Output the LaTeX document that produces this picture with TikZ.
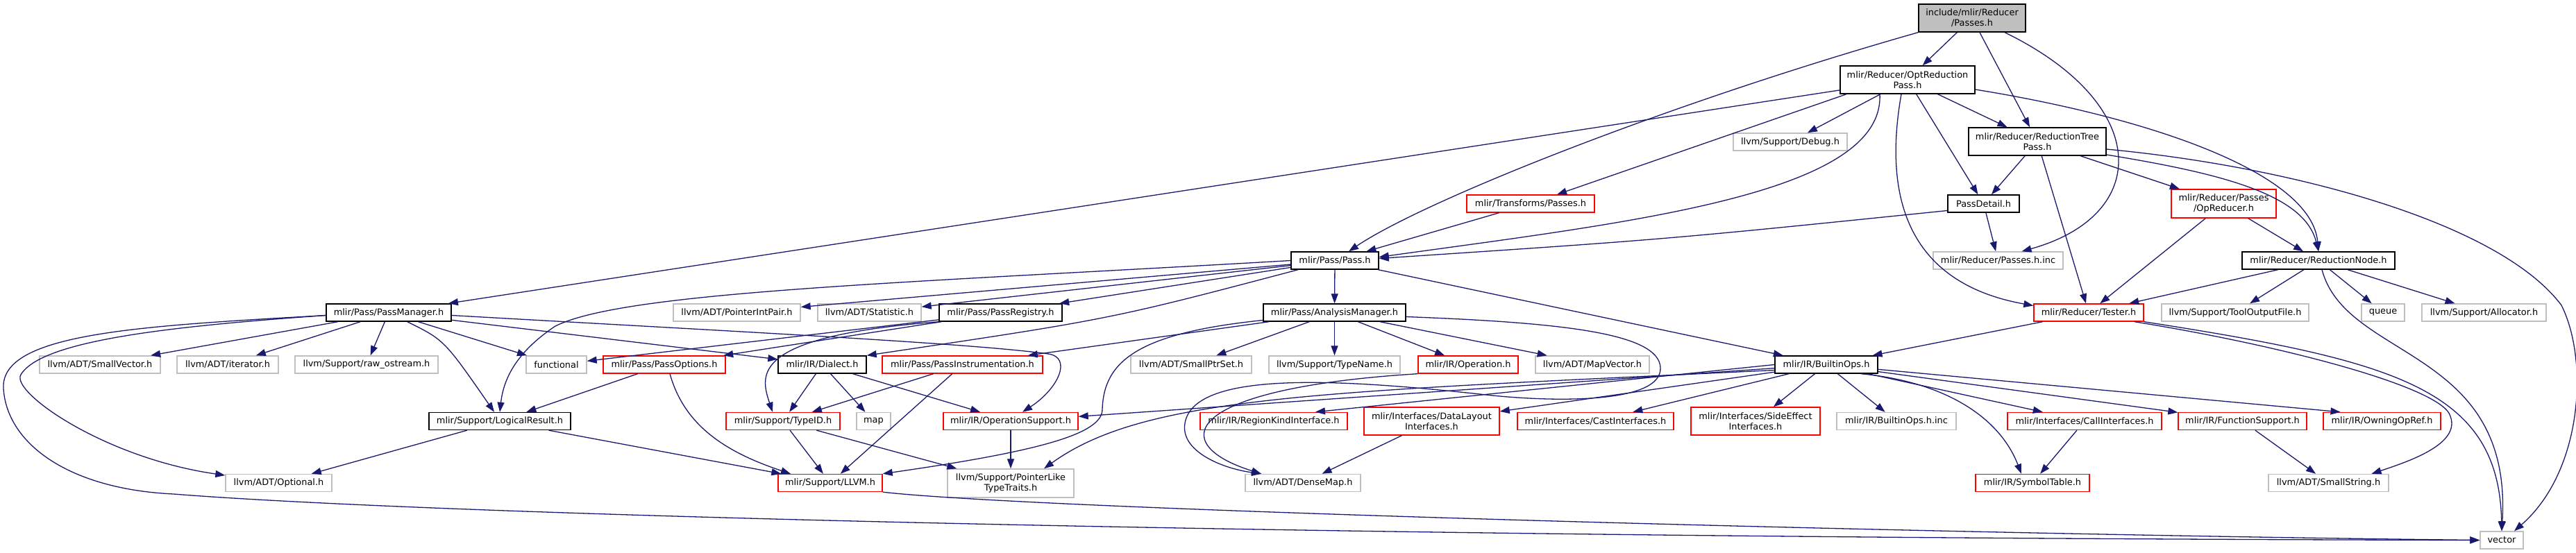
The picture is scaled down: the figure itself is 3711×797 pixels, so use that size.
\documentclass[tikz,border=0pt]{standalone}
\usepackage{fontspec}
\setmainfont{DejaVu Sans}
\usepackage{xcolor}
\usetikzlibrary{arrows.meta}
\definecolor{edgeblue}{HTML}{191970}
\definecolor{grey75}{HTML}{BFBFBF}
\definecolor{cutred}{HTML}{FF0000}

\begin{document}
\begin{tikzpicture}[x=1pt,y=-1pt,
  font=\fontsize{12.9}{15.3}\selectfont,
  box/.style={draw=black,line width=1.4pt,fill=white,inner sep=0pt,minimum height=25pt,align=center},
  sysbox/.style={box,draw=grey75},
  cutbox/.style={box,draw=cutred},
  edge/.style={draw=edgeblue,line width=1.3pt,-{Triangle[length=14pt,width=10pt]}}]
  \path[use as bounding box,fill=white] (0,0) rectangle (3711,797);

  \node[box,fill=grey75,minimum width=154pt,minimum height=40pt] (root) at (2841,26) {include/mlir/Reducer\\/Passes.h};
  \node[box,minimum width=194pt,minimum height=40pt] (optred) at (2748,115) {mlir/Reducer/OptReduction\\Pass.h};
  \node[sysbox,minimum width=164pt] (debug) at (2579,204.5) {llvm/Support/Debug.h};
  \node[box,minimum width=198pt,minimum height=40pt] (redtree) at (2935,204) {mlir/Reducer/ReductionTree\\Pass.h};
  \node[cutbox,minimum width=184pt] (trpasses) at (2205,293.5) {mlir/Transforms/Passes.h};
  \node[box,minimum width=103pt] (pdetail) at (2857.5,293.5) {PassDetail.h};
  \node[cutbox,minimum width=151pt,minimum height=41pt] (opred) at (3203.5,293.5) {mlir/Reducer/Passes\\/OpReducer.h};
  \node[box,minimum width=126pt] (pass) at (1923,375.5) {mlir/Pass/Pass.h};
  \node[sysbox,minimum width=187pt] (pinc) at (2878.5,375.5) {mlir/Reducer/Passes.h.inc};
  \node[box,minimum width=220pt] (rnode) at (3340,375.5) {mlir/Reducer/ReductionNode.h};

  \node[box,minimum width=180pt] (pmgr) at (560,450.5) {mlir/Pass/PassManager.h};
  \node[sysbox,minimum width=183pt] (pip) at (1061.5,450.5) {llvm/ADT/PointerIntPair.h};
  \node[sysbox,minimum width=149pt] (stat) at (1252.5,450.5) {llvm/ADT/Statistic.h};
  \node[box,minimum width=177pt] (preg) at (1441.5,450.5) {mlir/Pass/PassRegistry.h};
  \node[box,minimum width=205pt] (amgr) at (1922.5,450.5) {mlir/Pass/AnalysisManager.h};
  \node[cutbox,minimum width=158pt] (tester) at (3009,450.5) {mlir/Reducer/Tester.h};
  \node[sysbox,minimum width=212pt] (tof) at (3220,450.5) {llvm/Support/ToolOutputFile.h};
  \node[sysbox,minimum width=62pt] (queue) at (3433,450.5) {queue};
  \node[sysbox,minimum width=179pt] (alloc) at (3578.5,450.5) {llvm/Support/Allocator.h};

  \node[sysbox,minimum width=174pt] (svec) at (144,525.5) {llvm/ADT/SmallVector.h};
  \node[sysbox,minimum width=146pt] (iter) at (328,525.5) {llvm/ADT/iterator.h};
  \node[sysbox,minimum width=206pt] (ros) at (528,525.5) {llvm/Support/raw\_ostream.h};
  \node[sysbox,minimum width=87pt] (func) at (801.5,525.5) {functional};
  \node[cutbox,minimum width=176pt] (popt) at (957,525.5) {mlir/Pass/PassOptions.h};
  \node[box,minimum width=127pt] (dialect) at (1184.5,525.5) {mlir/IR/Dialect.h};
  \node[cutbox,minimum width=231pt] (pinstr) at (1386.5,525.5) {mlir/Pass/PassInstrumentation.h};
  \node[sysbox,minimum width=174pt] (sps) at (1716,525.5) {llvm/ADT/SmallPtrSet.h};
  \node[sysbox,minimum width=189pt] (tname) at (1922.5,525.5) {llvm/Support/TypeName.h};
  \node[cutbox,minimum width=144pt] (oper) at (2115,525.5) {mlir/IR/Operation.h};
  \node[sysbox,minimum width=164pt] (mvec) at (2294,525.5) {llvm/ADT/MapVector.h};
  \node[box,minimum width=148pt] (bops) at (2631,525.5) {mlir/IR/BuiltinOps.h};

  \node[box,minimum width=204pt] (lres) at (720,607) {mlir/Support/LogicalResult.h};
  \node[cutbox,minimum width=164pt] (tid) at (1128,607) {mlir/Support/TypeID.h};
  \node[sysbox,minimum width=49pt] (map) at (1258.5,607) {map};
  \node[cutbox,minimum width=194pt] (osup) at (1456,607) {mlir/IR/OperationSupport.h};
  \node[cutbox,minimum width=212pt] (rki) at (1835,607) {mlir/IR/RegionKindInterface.h};
  \node[cutbox,minimum width=195pt,minimum height=40pt] (dli) at (2062.5,607) {mlir/Interfaces/DataLayout\\Interfaces.h};
  \node[cutbox,minimum width=225pt] (cast) at (2298.5,607) {mlir/Interfaces/CastInterfaces.h};
  \node[cutbox,minimum width=186pt,minimum height=40pt] (sei) at (2529,607) {mlir/Interfaces/SideEffect\\Interfaces.h};
  \node[sysbox,minimum width=172pt] (binc) at (2732,607) {mlir/IR/BuiltinOps.h.inc};
  \node[cutbox,minimum width=222pt] (call) at (3003,607) {mlir/Interfaces/CallInterfaces.h};
  \node[cutbox,minimum width=185pt] (fsup) at (3230.5,607) {mlir/IR/FunctionSupport.h};
  \node[cutbox,minimum width=169pt] (owning) at (3431.5,607) {mlir/IR/OwningOpRef.h};

  \node[sysbox,minimum width=153pt] (opt) at (401.5,696) {llvm/ADT/Optional.h};
  \node[cutbox,minimum width=150pt] (llvm) at (1196,696) {mlir/Support/LLVM.h};
  \node[sysbox,minimum width=182pt,minimum height=41pt] (plt) at (1456,696.5) {llvm/Support/PointerLike\\TypeTraits.h};
  \node[sysbox,minimum width=166pt] (dmap) at (1877,696) {llvm/ADT/DenseMap.h};
  \node[cutbox,minimum width=164pt] (symtab) at (2928,696) {mlir/IR/SymbolTable.h};
  \node[sysbox,minimum width=173pt] (sstr) at (3354.5,696) {llvm/ADT/SmallString.h};
  \node[sysbox,minimum width=62pt] (vector) at (3604,778.5) {vector};

  \draw[edge] (root.south west) .. controls (2400,150) and (2050,290) .. ([xshift=20pt]pass.north);
  \draw[edge] (root) -- (optred);
  \draw[edge] (root) -- (redtree);
  \draw[edge] ([xshift=47pt]root.south) .. controls (3100,150) and (3100,310) .. ([xshift=34pt]pinc.north);

  \draw[edge] (optred) -- (pmgr);
  \draw[edge] ([xshift=-88pt]optred.south) -- (trpasses);
  \draw[edge] ([xshift=-40pt]optred.south) .. controls (2715,280) and (2350,320) .. ([yshift=5pt]pass.east);
  \draw[edge] (optred) -- (debug);
  \draw[edge] (optred) -- (pdetail);
  \draw[edge] (optred) -- (redtree);
  \draw[edge] ([yshift=-14pt]optred.east) .. controls (3100,170) and (3330,250) .. (rnode.north);
  \draw[edge] ([xshift=-9pt]optred.south) .. controls (2710,300) and (2760,410) .. ([yshift=10pt]tester.west);

  \draw[edge] (redtree) -- (pdetail);
  \draw[edge] (redtree) -- (tester);
  \draw[edge] (redtree) -- (opred);
  \draw[edge] ([yshift=-19pt]redtree.east) .. controls (3200,250) and (3320,280) .. (rnode.north);
  \draw[edge] ([yshift=-11pt]redtree.east) .. controls (3300,240) and (3600,320) .. (3690,440) .. controls (3730,520) and (3720,680) .. ([xshift=18pt]vector.north);

  \draw[edge] ([yshift=-10pt]pdetail.west) .. controls (2400,345) .. ([yshift=3pt]pass.east);
  \draw[edge] (pdetail) -- (pinc);
  \draw[edge] (trpasses) -- (pass);
  \draw[edge] (opred) -- (tester);
  \draw[edge] (opred) -- (rnode);

  \draw[edge] (rnode) -- (tester);
  \draw[edge] (rnode) -- (tof);
  \draw[edge] (rnode) -- (queue);
  \draw[edge] (rnode) -- (alloc);
  \draw[edge] ([xshift=5pt]rnode.south) .. controls (3380,520) and (3620,500) .. (vector.north);

  \draw[edge] (tester) -- (bops);
  \draw[edge] ([xshift=66pt]tester.south) .. controls (3300,500) and (3520,560) .. (3530,600) .. controls (3545,640) and (3470,665) .. ([xshift=62pt]sstr.north);
  \draw[edge] (tester.south east) .. controls (3450,520) and (3600,560) .. (vector.north);

  \draw[edge] (pass.west) .. controls (1300,408) and (900,420) .. (800,470) .. controls (740,510) and (725,550) .. (lres.north);
  \draw[edge] (pass) -- (pip);
  \draw[edge] (pass) -- (stat);
  \draw[edge] (pass) -- (preg);
  \draw[edge] ([xshift=-53pt]pass.south) .. controls (1600,460) .. (dialect.north east);
  \draw[edge] (pass) -- (amgr);
  \draw[edge] (pass) -- (bops);

  \draw[edge] (preg) -- (func);
  \draw[edge] (preg) -- (popt);
  \draw[edge] (preg.south west) .. controls (1080,485) and (1095,540) .. ([xshift=-15pt]tid.north);

  \draw[edge] (pmgr) -- (svec);
  \draw[edge] (pmgr) -- (iter);
  \draw[edge] (pmgr) -- (ros);
  \draw[edge] (pmgr) -- (func);
  \draw[edge] (pmgr) .. controls (640,490) .. ([xshift=-8pt]lres.north);
  \draw[edge] (pmgr) -- (dialect);
  \draw[edge] ([yshift=-4pt]pmgr.east) .. controls (1100,480) and (1400,495) .. (1510,510) .. controls (1545,515) and (1525,560) .. ([xshift=17pt]osup.north);
  \draw[edge] ([yshift=-4pt]pmgr.west) .. controls (250,470) and (60,490) .. (30,540) .. controls (15,565) and (150,660) .. ([yshift=11pt]opt.west);
  \draw[edge] ([yshift=-4pt]pmgr.west) .. controls (200,470) and (0,480) .. (5,560) .. controls (10,640) and (100,705) .. (250,712) .. controls (600,740) and (1800,775) .. (vector.west);

  \draw[edge] (amgr) -- (pinstr);
  \draw[edge] ([yshift=-11pt]amgr.west) .. controls (1640,480) and (1590,520) .. (1588,590) .. controls (1588,625) and (1500,650) .. (llvm.north east);
  \draw[edge] (amgr) -- (sps);
  \draw[edge] (amgr) -- (tname);
  \draw[edge] (amgr) -- (oper);
  \draw[edge] (amgr) -- (mvec);
  \draw[edge] ([yshift=-6pt]amgr.east) .. controls (2250,465) and (2390,480) .. (2392,530) .. controls (2394,580) and (2250,580) .. (2150,570) .. controls (1950,548) and (1720,530) .. (1707,610) .. controls (1700,650) and (1760,675) .. ([xshift=-60pt]dmap.north);
  \draw[edge] (oper.south west) .. controls (1700,560) and (1680,640) .. ([xshift=-60pt]dmap.north);

  \draw[edge] (bops) -- (osup);
  \draw[edge] (bops.west) -- ([xshift=60pt]rki.north);
  \draw[edge] (bops) -- (dli);
  \draw[edge] ([yshift=-8pt]bops.west) .. controls (1900,565) and (1650,570) .. ([xshift=48pt]plt.north);
  \draw[edge] (bops) -- (cast);
  \draw[edge] (bops) -- (sei);
  \draw[edge] (bops) -- (binc);
  \draw[edge] ([xshift=50pt]bops.south) .. controls (2800,550) and (2880,600) .. ([xshift=-16pt]symtab.north);
  \draw[edge] (bops) -- (call);
  \draw[edge] (bops) -- (fsup);
  \draw[edge] (bops) -- ([xshift=-60pt]owning.north);

  \draw[edge] (call) -- (symtab);
  \draw[edge] (fsup) -- (sstr);
  \draw[edge] (dli) -- (dmap);
  \draw[edge] (osup) -- (plt);
  \draw[edge] (dialect) -- (tid);
  \draw[edge] (dialect) -- (map);
  \draw[edge] (dialect) -- (osup);
  \draw[edge] (pinstr) -- (tid);
  \draw[edge] (pinstr) -- (llvm);
  \draw[edge] (tid) -- (llvm);
  \draw[edge] (tid) -- (plt);
  \draw[edge] (popt) -- (lres);
  \draw[edge] ([xshift=8pt]popt.south) .. controls (985,610) and (1040,650) .. ([xshift=-57pt]llvm.north);
  \draw[edge] (lres) -- (opt);
  \draw[edge] (lres) -- (llvm);
  \draw[edge] (llvm.south east) .. controls (1500,735) and (2800,770) .. (vector.west);
\end{tikzpicture}
\end{document}
